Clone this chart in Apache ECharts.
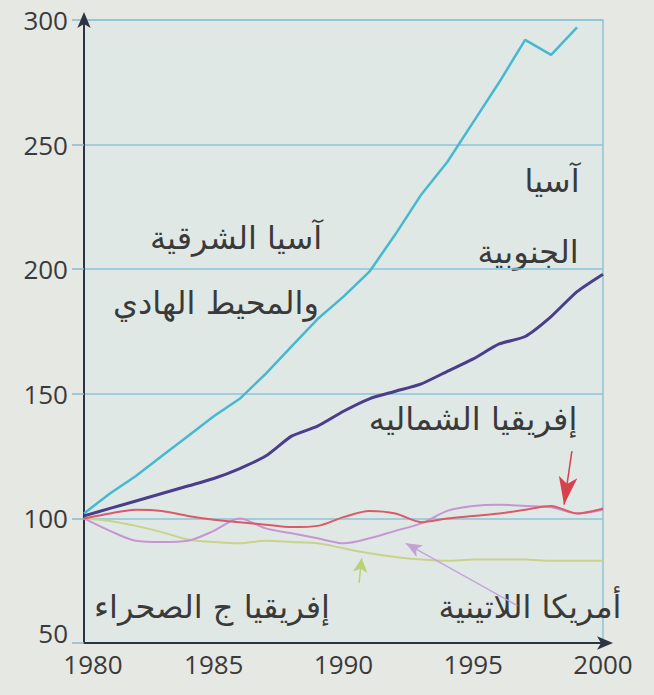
<!DOCTYPE html>
<html>
<head>
<meta charset="utf-8">
<script src="https://cdn.jsdelivr.net/npm/echarts@6/dist/echarts.min.js"></script>
<style>
  html, body { margin: 0; padding: 0; background: #e6e8e4; }
  #chart { width: 654px; height: 695px; }
</style>
</head>
<body>
<div id="chart"></div>
<script>
// Production index, 1980 = 100
const years = [1980, 1981, 1982, 1983, 1984, 1985, 1986, 1987, 1988, 1989, 1990,
               1991, 1992, 1993, 1994, 1995, 1996, 1997, 1998, 1999, 2000];

const eastAsiaPacific = [102, 110, 117, 125, 133, 141, 148, 158, 169, 180, 189,
                         199, 214, 230, 243, 259, 275, 292, 286, 297, null];
const southAsia       = [101, 104, 107, 110, 113, 116, 120, 125, 133, 137, 143,
                         148, 151, 154, 159, 164, 170, 173, 181, 191, 198];
const northAfrica     = [100, 102, 103.5, 103, 101, 99.5, 98.5, 97.5, 96.5, 97, 100.5,
                         103, 102, 98.5, 100, 101, 102, 103.5, 105, 102, 104];
const latinAmerica    = [100, 95, 91, 90.5, 91, 95, 100, 96, 94, 92, 90,
                         92, 95, 98, 103, 105, 105.5, 105, 104.5, 102, 103.5];
const subSaharan      = [100, 99, 97, 94.5, 91.5, 90.5, 90, 91, 90.5, 90, 88,
                         86, 84.5, 83.5, 83, 83.5, 83.5, 83.5, 83, 83, 83];

const yTicks = [50, 100, 150, 200, 250, 300];
const xTicks = [1980, 1985, 1990, 1995, 2000];

const pairs = vals => years.map((y, i) => [y, vals[i]]);

const arabicFont = '"DejaVu Sans", sans-serif';
const numberFont = '"Open Sans", sans-serif';
const inkColor = '#3a3a3a';

const chart = echarts.init(document.getElementById('chart'), null, { renderer: 'svg' });

function pointer(color, from, to, size) {
  return {
    silent: true,
    symbol: ['none', 'arrow'],
    symbolSize: size,
    label: { show: false },
    lineStyle: { color: color, width: 1.5, type: 'solid' },
    data: [[{ coord: from }, { coord: to }]]
  };
}

function areaLabel(text, cx, cy) {
  return {
    type: 'text', x: cx, y: cy,
    style: { text: text, font: '32px ' + arabicFont, fill: inkColor,
             textAlign: 'center', textVerticalAlign: 'middle' }
  };
}

const numberStyle = { color: inkColor, fontSize: 26, fontFamily: numberFont };

chart.setOption({
  backgroundColor: '#e6e8e4',
  animation: false,
  grid: {
    left: 84, right: 51, top: 20, bottom: 52,
    show: true, backgroundColor: '#e0e8e6',
    borderColor: '#8cc3d8', borderWidth: 1.5
  },
  xAxis: {
    type: 'value', min: xTicks[0], max: xTicks[xTicks.length - 1], interval: 5,
    axisLine: { show: true, symbol: ['none', 'arrow'], symbolSize: [10, 16], symbolOffset: [0, 10],
                lineStyle: { color: '#2c3344', width: 2 } },
    axisTick: { show: false },
    splitLine: { show: false },
    axisLabel: Object.assign({}, numberStyle, {
      margin: 8,
      formatter: v => v === xTicks[0] ? '{first|' + v + '}' : String(v),
      rich: { first: Object.assign({}, numberStyle, { padding: [0, 0, 0, 18] }) }
    })
  },
  yAxis: {
    type: 'value', min: yTicks[0], max: yTicks[yTicks.length - 1], interval: 50,
    axisLine: { show: true, symbol: ['none', 'arrow'], symbolSize: [10, 16], symbolOffset: [0, 8],
                lineStyle: { color: '#2c3344', width: 2 } },
    axisTick: { show: true, length: 12, lineStyle: { color: '#8cb8cc', width: 1.5 } },
    splitLine: { show: true, lineStyle: { color: '#8cc3d8', width: 1.5 } },
    axisLabel: Object.assign({}, numberStyle, {
      margin: 16,
      formatter: v => v === yTicks[0] ? '{low|' + v + '}' : String(v),
      rich: { low: Object.assign({}, numberStyle, { padding: [0, 0, 20, 0] }) }
    })
  },
  series: [
    {
      name: 'آسيا الشرقية والمحيط الهادي', type: 'line', showSymbol: false,
      data: pairs(eastAsiaPacific),
      lineStyle: { color: '#46b8d0', width: 2.5 }, z: 5
    },
    {
      name: 'آسيا الجنوبية', type: 'line', showSymbol: false, smooth: 0.2,
      data: pairs(southAsia),
      lineStyle: { color: '#4a3d8c', width: 3 }, z: 5
    },
    {
      name: 'أمريكا اللاتينية', type: 'line', showSymbol: false, smooth: 0.3,
      data: pairs(latinAmerica),
      lineStyle: { color: '#c795d2', width: 2 }, z: 3,
      markLine: pointer('#c4a2d6', [1996.7, 65], [1992.4, 90], [10, 16])
    },
    {
      name: 'إفريقيا ج الصحراء', type: 'line', showSymbol: false, smooth: 0.3,
      data: pairs(subSaharan),
      lineStyle: { color: '#c9d289', width: 2 }, z: 2,
      markLine: pointer('#b9d27a', [1990.6, 74], [1990.7, 84], [11, 14])
    },
    {
      name: 'إفريقيا الشماليه', type: 'line', showSymbol: false, smooth: 0.3,
      data: pairs(northAfrica),
      lineStyle: { color: '#d95a68', width: 2 }, z: 4,
      markLine: pointer('#d9404e', [1998.8, 127], [1998.5, 105.5], [14, 28])
    }
  ],
  graphic: [
    areaLabel('آسيا الشرقية', 236, 238),
    areaLabel('والمحيط الهادي', 216, 303),
    areaLabel('آسيا', 552, 181),
    areaLabel('الجنوبية', 528, 252),
    areaLabel('إفريقيا الشماليه', 473, 419),
    areaLabel('إفريقيا ج الصحراء', 212, 607),
    areaLabel('أمريكا اللاتينية', 530, 607)
  ]
});
</script>
</body>
</html>
